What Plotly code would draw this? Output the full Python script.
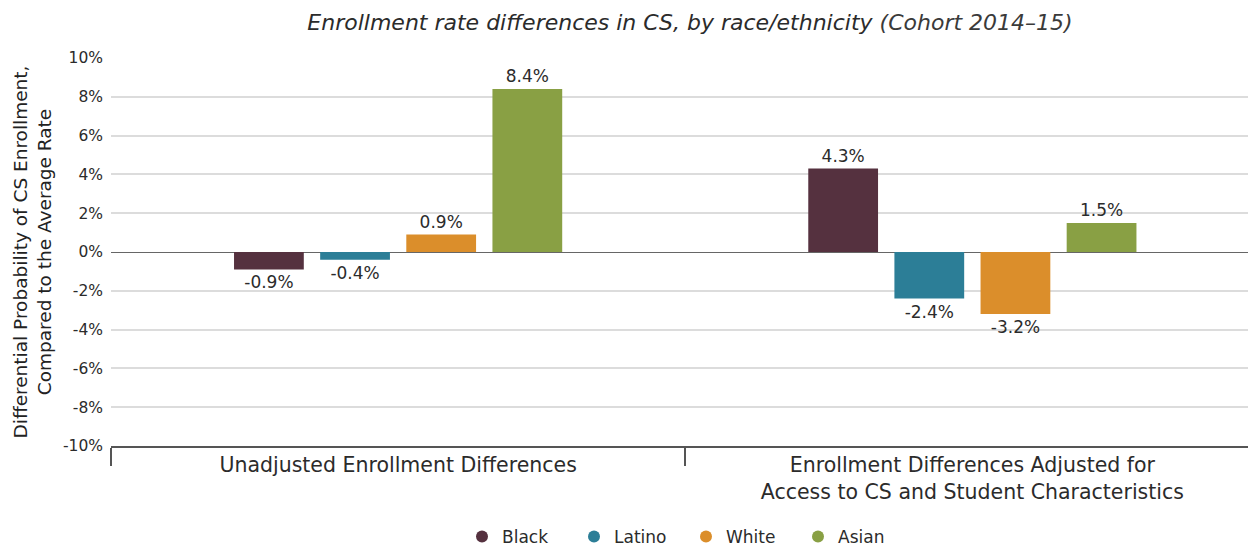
import plotly.graph_objects as go

categories = ["Unadjusted Enrollment Differences",
              "Enrollment Differences Adjusted for<br>Access to CS and Student Characteristics"]
series_names = ["Black", "Latino", "White", "Asian"]
values = {
    "Black": [-0.9, 4.3],
    "Latino": [-0.4, -2.4],
    "White": [0.9, -3.2],
    "Asian": [8.4, 1.5],
}
colors = {"Black": "#55313F", "Latino": "#2C7E97", "White": "#DB8E2B", "Asian": "#89A044"}
y_ticks = [-10, -8, -6, -4, -2, 0, 2, 4, 6, 8, 10]
y_ticktext = [f"{v}%" for v in y_ticks]

FONT = "DejaVu Sans, sans-serif"
TXT = "#2b2b2b"

fig = go.Figure()
for s in series_names:
    fig.add_trace(go.Bar(
        x=categories, y=values[s], name=s, showlegend=False,
        marker=dict(color=colors[s], line=dict(width=0)),
        text=[f"{v:.1f}%" for v in values[s]],
        textposition="outside", cliponaxis=False,
        textfont=dict(family=FONT, size=17, color=TXT),
    ))
# legend entries with circular symbols
for s in series_names:
    fig.add_trace(go.Scatter(
        x=[None], y=[None], mode="markers", name=s,
        marker=dict(symbol="circle", size=17, color=colors[s]),
    ))

fig.update_layout(
    width=1248, height=546,
    margin=dict(l=111, r=0, t=58, b=100, autoexpand=False),
    plot_bgcolor="white", paper_bgcolor="white",
    barmode="group", bargap=0.4, bargroupgap=0.19,
    font=dict(family=FONT, color=TXT),
    title=dict(
        text="<i>Enrollment rate differences in CS, by race/ethnicity</i> "
             "<span style='color:#3a3a3a'><i>(Cohort 2014–15)</i></span>",
        x=690/1248, xanchor="center", xref="container",
        y=1-22/546, yanchor="middle", yref="container",
        font=dict(family=FONT, size=22, color=TXT),
    ),
    legend=dict(orientation="h", xref="paper", x=(686-111)/1137, xanchor="center",
                yref="paper", y=(446-537)/388, yanchor="middle",
                font=dict(family=FONT, size=17, color=TXT),
                itemsizing="constant", traceorder="normal", itemwidth=30,
                entrywidth=67),
    showlegend=True,
)
fig.update_xaxes(
    range=[-0.5, 1.48], showgrid=False, showline=True, linecolor="#555", linewidth=1.5,
    ticks="outside", tickson="boundaries", ticklen=18, tickcolor="#555", tickwidth=1.5,
    tickfont=dict(family=FONT, size=20.5, color=TXT), fixedrange=True, automargin=False,
)
fig.update_yaxes(
    range=[-10, 10], tickvals=y_ticks, ticktext=y_ticktext, automargin=False,
    showgrid=True, gridcolor="#dcdcdc", gridwidth=1.5, zeroline=True, zerolinecolor="#666",
    zerolinewidth=1.2, ticks="", tickfont=dict(family=FONT, size=15.5, color=TXT),
    ticklabelstandoff=7,
    title=dict(text="Differential Probability of CS Enrollment,<br>Compared to the Average Rate",
               font=dict(family=FONT, size=18.5, color="#222"), standoff=6),
)

fig.write_html("out.html", post_script="document.body.style.margin='0';",
               config={"displayModeBar": False})
